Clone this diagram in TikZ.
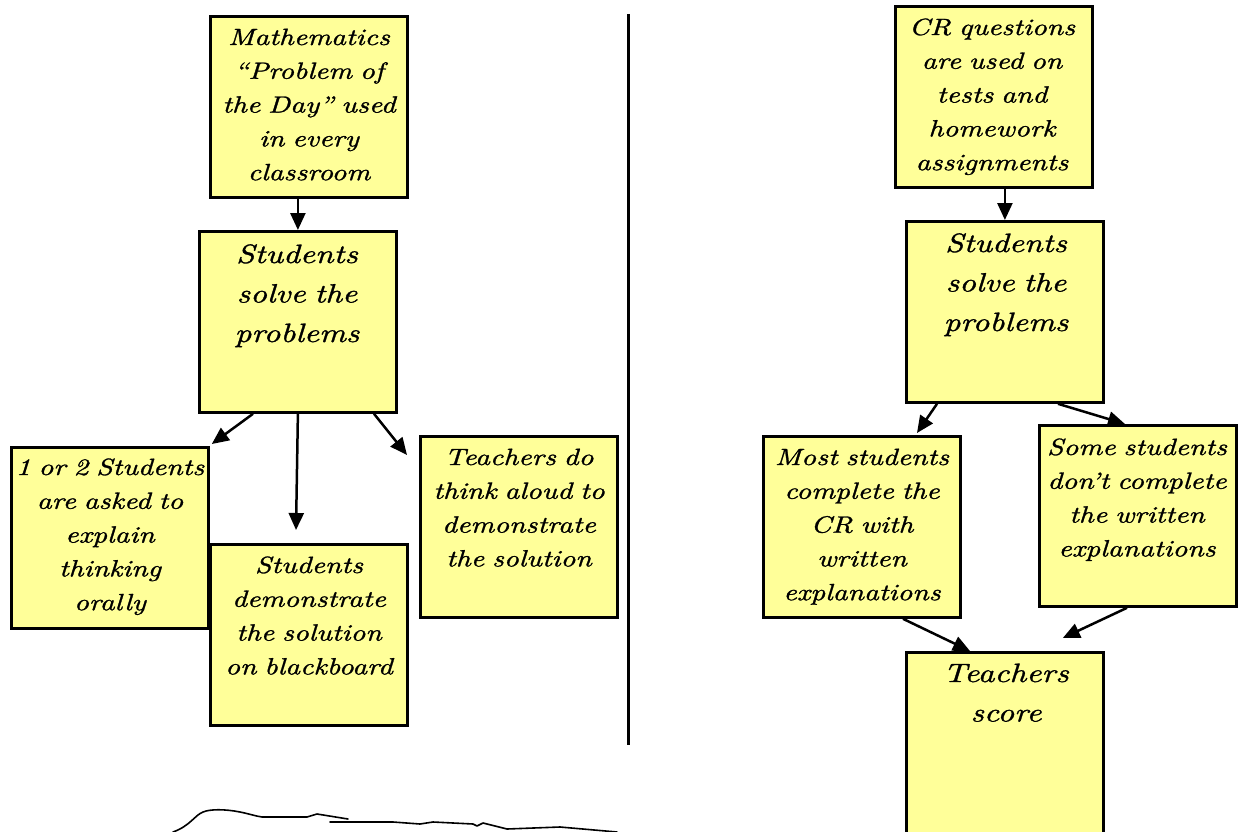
\documentclass[tikz,border=0pt]{standalone}
\usepackage{fontspec}
\newfontfamily\hand{lmroman10-italic}[Extension=.otf, FakeStretch=1.24, FakeBold=1.2]
\usetikzlibrary{arrows.meta,calc}
\definecolor{sticky}{HTML}{FFFF99}
\begin{document}
\begin{tikzpicture}[x=1pt,y=-1pt,
  box/.style={draw=black, line width=2.8pt, fill=sticky, anchor=north west, inner sep=0pt,
    minimum width=197pt, minimum height=181pt},
  small/.style={anchor=base, inner sep=0pt, text width=230pt, align=center,
    font=\hand\fontsize{23.5}{33.8}\selectfont},
  big/.style={anchor=base, inner sep=0pt, text width=230pt, align=center,
    font=\hand\fontsize{26.5}{39.5}\selectfont},
  arr/.style={line width=2.5pt, -{Triangle[length=17pt,width=15pt]}},
  scribble/.style={line width=1.6pt, line cap=round, line join=round}]
\useasboundingbox (0,0) rectangle (1239,832);
% ---- left side ----
\node[box] (b1) at (209,15) {};
\node[small] (t1) at (309,45) {Mathematics\\“Problem of\\the Day” used\\in every\\classroom};
\node[box] (b2) at (198,230) {};
\node[big] (t2) at (297,263) {Students\\solve the\\problems};
\node[box] (b3) at (10,446) {};
\node[small] (t3) at (110,475) {1 or 2 Students\\are asked to\\explain\\thinking\\orally};
\node[box] (b4) at (209,543) {};
\node[small] (t4) at (309,573) {Students\\demonstrate\\the solution\\on blackboard};
\node[box] (b5) at (419,435) {};
\node[small] (t5) at (519,465) {Teachers do\\think aloud to\\demonstrate\\the solution};
% divider
\coordinate (d1) at (628,14);
\coordinate (d2) at (628,745);
\draw[line width=3pt] (d1) -- (d2);
% ---- right side ----
\node[box] (b6) at (894,5) {};
\node[small] (t6) at (992,35) {CR questions\\are used on\\tests and\\homework\\assignments};
\node[box] (b7) at (905,220) {};
\node[big] (t7) at (1006,252) {Students\\solve the\\problems};
\node[box] (b8) at (762,435) {};
\node[small] (t8) at (862,465) {Most students\\complete the\\CR with\\written\\explanations};
\node[box] (b9) at (1038,424) {};
\node[small] (t9) at (1137,455) {Some students\\don’t complete\\the written\\explanations};
\node[box, minimum height=186pt] (b10) at (905,651) {};
\node[big] (t10) at (1006,682) {Teachers\\score};
% ---- arrows ----
\coordinate (e3) at (296,530);
\draw[arr] (b2.north |- b1.south) -- (b2.north);
\draw[arr] ($(b2.south west)+(55,0)$) -- ($(b3.north east)+(2,-2)$);
\draw[arr] (b2.south) -- (e3);
\draw[arr] ($(b2.south west)+(176,0)$) -- ($(b5.north west)+(-12,20)$);
\draw[arr] (b7.north |- b6.south) -- (b7.north);
\draw[arr] ($(b7.south west)+(32,0)$) -- ($(b8.north west)+(155,-2)$);
\draw[arr] ($(b7.south west)+(153,0)$) -- ($(b9.north west)+(87,0)$);
\draw[arr] ($(b8.south west)+(141,0)$) -- ($(b10.north west)+(65,0)$);
\draw[arr] ($(b9.south west)+(89,0)$) -- ($(b10.north east)+(-42,-13)$);
% ---- scribble ----
\draw[scribble] (173,832) .. controls (190,826) and (195,815) .. (203,812)
  .. controls (210,809) and (225,809) .. (240,812)
  .. controls (250,814) and (255,816) .. (262,817)
  -- (307,817) -- (317,814) -- (348,819);
\draw[scribble] (330,822) -- (393,822) -- (420,824) -- (433,822) -- (473,824) -- (477,826)
  -- (483,823) -- (507,829) -- (560,827) -- (617,832);
\end{tikzpicture}
\end{document}
